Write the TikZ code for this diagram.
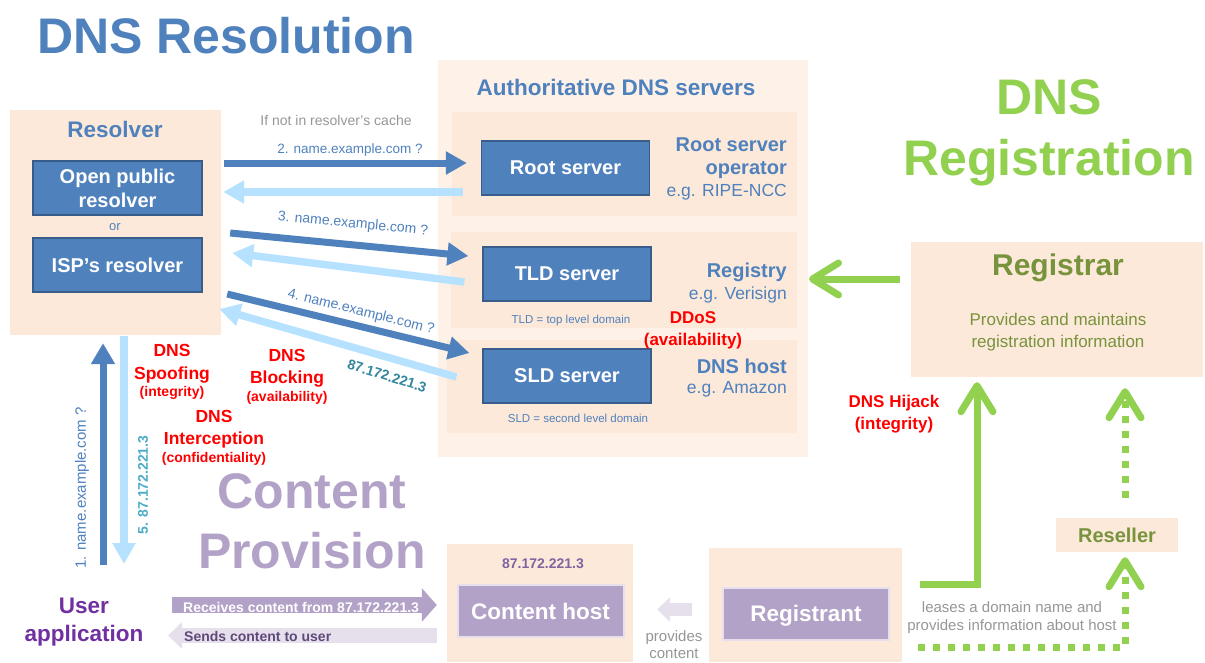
\documentclass[tikz,border=0pt]{standalone}
\usepackage{fontspec}
\setmainfont{Liberation Sans}
\usetikzlibrary{arrows.meta}

\definecolor{dnsblue}{RGB}{79,129,189}
\definecolor{dnsedge}{RGB}{56,93,138}
\definecolor{answerblue}{RGB}{183,226,255}
\definecolor{peach}{RGB}{253,233,217}
\definecolor{peachlight}{RGB}{254,241,232}
\definecolor{cpurple}{RGB}{179,162,199}
\definecolor{clavender}{RGB}{230,224,236}
\definecolor{upurple}{RGB}{112,48,160}
\definecolor{dpurple}{RGB}{95,73,122}
\definecolor{ipurple}{RGB}{128,100,162}
\definecolor{regreen}{RGB}{146,208,80}
\definecolor{olive}{RGB}{119,147,60}
\definecolor{tealfive}{RGB}{75,172,198}
\definecolor{tealdark}{RGB}{49,133,156}
\definecolor{note}{RGB}{150,150,150}

\newcommand{\fsz}[2]{\fontsize{#1pt}{#2pt}\selectfont}

\begin{document}
\begin{tikzpicture}[x=1pt, y=-1pt,
  every node/.style={inner sep=0pt},
  bg/.style={fill=peach},
  server/.style={fill=dnsblue, draw=dnsedge, line width=1.2pt, text=white,
    font=\bfseries\fsz{20}{24}, minimum width=168pt, minimum height=54pt,
    text depth=0pt, align=center},
  hostbox/.style={fill=cpurple, draw=clavender, line width=2pt, text=white,
    font=\bfseries\fsz{22.5}{27}, minimum width=166pt, minimum height=52pt,
    text depth=0pt},
  query/.style={dnsblue, line width=7pt, -{Triangle[width=22pt,length=21pt]}},
  answer/.style={answerblue, line width=7.5pt, -{Triangle[width=22pt,length=21pt]}},
  threat/.style={red, font=\bfseries\fsz{17.5}{22}, align=center, anchor=base},
  role/.style={dnsblue, font=\bfseries\fsz{20}{23}, anchor=base east, align=right},
  example/.style={dnsblue, font=\fsz{17.5}{21}, anchor=base east},
  reg/.style={regreen, line width=7pt, -{Straight Barb[width=32pt,length=26pt,round]}},
  dotreg/.style={reg, dash pattern=on 7pt off 8pt}]

  \useasboundingbox (0,0) rectangle (1205,662);

  % Section titles (base = last line)
  \node[dnsblue, font=\bfseries\fsz{50}{60}, anchor=base] (restitle) at (226,53) {DNS Resolution};
  \node[regreen, font=\bfseries\fsz{50}{61}, anchor=base, align=center] (regtitle) at (1049,175) {DNS\\Registration};
  \node[cpurple, font=\bfseries\fsz{50}{60}, anchor=base, align=center] (cptitle) at (312,568) {Content\\Provision};

  % Resolver
  \node[bg, minimum width=211pt, minimum height=225pt] (resolver) at (115.5,222.5) {};
  \node[dnsblue, font=\bfseries\fsz{22.5}{27}, anchor=base] (resolvertitle) at (115,137) {Resolver};
  \node[server, minimum width=169pt] (openres) at (117.5,188) {Open public\\resolver};
  \node[dnsblue, font=\fsz{13}{16}, anchor=base] (or) at (115,230) {or};
  \node[server, minimum width=169pt] (ispres) at (117.5,265) {ISP’s resolver};

  % Authoritative servers
  \node[fill=peachlight, minimum width=370pt, minimum height=397pt] (auth) at (623,258.5) {};
  \node[dnsblue, font=\bfseries\fsz{22.5}{27}, anchor=base] (authtitle) at (616,95) {Authoritative DNS servers};
  \node[bg, minimum width=345pt, minimum height=104pt] (rootbg) at (624.5,164) {};
  \node[bg, minimum width=346pt, minimum height=96pt] (tldbg) at (624,280) {};
  \node[bg, minimum width=350pt, minimum height=93pt] (sldbg) at (622,386.5) {};
  \node[server] (root) at (565.5,168) {Root server};
  \node[server] (tld) at (567,274) {TLD server};
  \node[server] (sld) at (567,376) {SLD server};
  \node[dnsblue, font=\fsz{11.5}{14}, anchor=base] (tldnote) at (571,323) {TLD = top level domain};
  \node[dnsblue, font=\fsz{11.5}{14}, anchor=base] (sldnote) at (578,422) {SLD = second level domain};
  \node[role] (rootop) at (787,174) {Root server\\operator};
  \node[example] (ripe) at (787,196) {e.g. RIPE-NCC};
  \node[role] (registry) at (787,277) {Registry};
  \node[example] (verisign) at (787,299) {e.g. Verisign};
  \node[role] (dnshost) at (787,373) {DNS host};
  \node[example] (amazon) at (787,393) {e.g. Amazon};

  % Queries (dark) and answers (light)
  \node[note, font=\fsz{14}{17}, anchor=base] (cache) at (336,125) {If not in resolver’s cache};
  \draw[query] ([shift={(3,-59.5)}]resolver.east) -- ([shift={(-14,-5)}]root.west);
  \draw[answer] ([shift={(-18,24)}]root.west) -- ([shift={(2,-30.5)}]resolver.east);
  \draw[query] ([shift={(9,10.5)}]resolver.east) -- ([shift={(-14,-18)}]tld.west);
  \draw[answer] ([shift={(-18,8)}]tld.west) -- ([shift={(11,30.5)}]resolver.east);
  \draw[query] ([shift={(6,71.5)}]resolver.east) -- ([shift={(-13,-23)}]sld.west);
  \draw[answer] ([shift={(-26,1)}]sld.west) -- ([shift={(-2,86.5)}]resolver.east);
  \node[dnsblue, font=\fsz{13.5}{16}, anchor=base] (q2) at (350,153) {2. name.example.com ?};
  \node[dnsblue, font=\fsz{14}{16}, rotate=-5.5] (q3) at (353,224) {3. name.example.com ?};
  \node[dnsblue, font=\fsz{14}{16}, rotate=-14] (q4) at (361,312) {4. name.example.com ?};
  \node[tealdark, font=\bfseries\fsz{14}{17}, rotate=-17] (a4) at (387,376) {87.172.221.3};

  % User to resolver and back
  \coordinate (q1start) at (103,565);
  \coordinate (a5end) at (124,564);
  \draw[query, -{Triangle[width=23pt,length=21pt]}] (q1start) -- ([shift={(-12.5,8)}]resolver.south);
  \draw[answer] ([shift={(8.5,1)}]resolver.south) -- (a5end);
  \node[dnsblue, font=\fsz{15}{18}, rotate=90] (q1) at (82,488) {1. name.example.com ?};
  \node[tealfive, font=\bfseries\fsz{14}{17}, rotate=90] (a5) at (143,485) {5. 87.172.221.3};

  % Threats
  \node[threat, font=\bfseries\fsz{17.5}{23}] (spoof) at (172,396) {DNS\\Spoofing\\[-6pt]{\fsz{14}{17}(integrity)}};
  \node[threat] (block) at (287,401) {DNS\\Blocking\\[-4pt]{\fsz{14}{17}(availability)}};
  \node[threat] (intercept) at (214,462) {DNS\\Interception\\[-4pt]{\fsz{14}{17}(confidentiality)}};
  \node[threat, font=\bfseries\fsz{17}{22}] (ddos) at (693,345) {DDoS\\(availability)};
  \node[threat, font=\bfseries\fsz{17}{22}] (hijack) at (894,429) {DNS Hijack\\(integrity)};

  % Content provision
  \node[upurple, font=\bfseries\fsz{22.5}{28}, anchor=base, align=center] (user) at (84,641) {User\\application};
  \node[bg, minimum width=186pt, minimum height=118pt] (hostbg) at (540,603) {};
  \node[ipurple, font=\bfseries\fsz{14}{17}, anchor=base] (hostip) at (543,568) {87.172.221.3};
  \node[hostbox] (host) at (540.5,611) {Content host};
  \node[bg, minimum width=193pt, minimum height=114pt] (registrantbg) at (805.5,605) {};
  \node[hostbox] (registrant) at (806,613.5) {Registrant};
  \coordinate (recvstart) at (172,605);
  \coordinate (sendend) at (168,635.5);
  \draw[cpurple, line width=16pt, -{Triangle[width=33pt,length=15pt]}] (recvstart) -- ([shift={(-10,2)}]hostbg.west);
  \draw[clavender, line width=15pt, -{Triangle[width=26pt,length=14pt]}] ([shift={(-10,32.5)}]hostbg.west) -- (sendend);
  \node[white, font=\bfseries\fsz{14}{17}, anchor=base west] (recvlabel) at (183,612) {Receives content from 87.172.221.3};
  \node[dpurple, font=\bfseries\fsz{14}{17}, anchor=base west] (sendlabel) at (184,641) {Sends content to user};
  \draw[clavender, line width=13pt, -{Triangle[width=24pt,length=13pt]}] ([shift={(-17,4.5)}]registrantbg.west) -- ([shift={(24,6.5)}]hostbg.east);
  \node[note, font=\fsz{15}{17}, anchor=base, align=center] (provides) at (674,658) {provides\\content};

  % Registration
  \node[bg, minimum width=292pt, minimum height=135pt] (registrar) at (1057,309.5) {};
  \node[olive, font=\bfseries\fsz{30}{36}, anchor=base] (registrartitle) at (1058,275) {Registrar};
  \node[olive, font=\fsz{17}{22}, anchor=base, align=center] (registrarnote) at (1058,347) {Provides and maintains\\registration information};
  \node[bg, text=olive, font=\bfseries\fsz{20}{24}, minimum width=122pt, minimum height=34pt, text depth=0pt] (reseller) at (1117,535) {Reseller};
  \draw[reg] ([shift={(-11,-30.5)}]registrar.west) -- ([xshift=22pt]registry.east |- 0,279);
  \draw[reg] ([shift={(18,-21)}]registrantbg.east) -| ([shift={(-80,5)}]registrar.south);
  \draw[dotreg] ([shift={(16,42)}]registrantbg.east) -| ([shift={(8,5)}]reseller.south);
  \draw[dotreg] ([shift={(8,-20)}]reseller.north) -- ([shift={(68,11)}]registrar.south);
  \node[note, font=\fsz{15}{18}, anchor=base, align=center] (leases) at (1012,630) {leases a domain name and\\provides information about host};

\end{tikzpicture}
\end{document}
